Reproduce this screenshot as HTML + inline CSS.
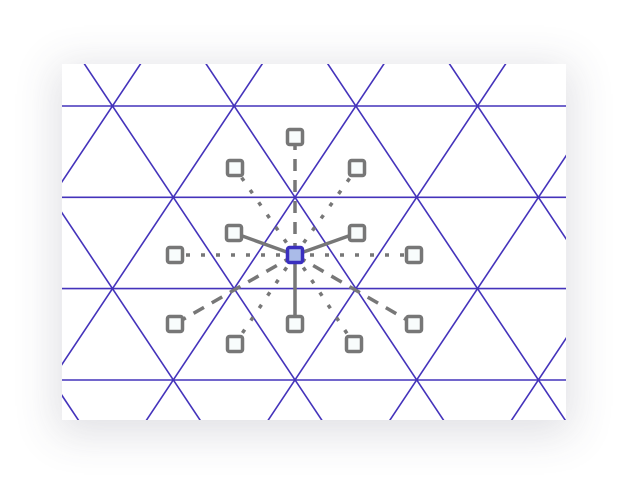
<!DOCTYPE html>
<html><head><meta charset="utf-8"><style>
html,body{margin:0;padding:0;background:#fff;width:642px;height:495px;overflow:hidden;font-family:"Liberation Sans",sans-serif}
#card{position:absolute;left:62px;top:64px;width:504px;height:356px;background:#fff;box-shadow:0 8px 40px 6px rgba(60,60,90,0.16);overflow:hidden}
svg{position:absolute;left:0;top:0}
</style></head><body>
<div id="card"></div>
<svg id="svg" width="642" height="495"></svg>
<script>
// grid geometry (page coords)
const rowYs=[106,197.3,288.6,380];
const colStep=121.7, originX=295, originY=255;
// neighbour nodes: offset from center (px), link style
const nodeDx=[0,-60,62,-61,62,-120,119,-120,119,0,-60,59];
const nodeDy=[-118,-87,-87,-22,-22,0,0,69,69,69,89,89];
const nodeStyle=['dashed','dotted','dotted','solid','solid','dotted','dotted','dashed','dashed','solid','dotted','dotted'];
const NS='http://www.w3.org/2000/svg';
const svg=document.getElementById('svg');
const cx0=62,cy0=64,cx1=566,cy1=420;
const clip=document.createElementNS(NS,'clipPath');clip.setAttribute('id','c');
const cr=document.createElementNS(NS,'rect');cr.setAttribute('x',cx0);cr.setAttribute('y',cy0);cr.setAttribute('width',cx1-cx0);cr.setAttribute('height',cy1-cy0);
clip.appendChild(cr);svg.appendChild(clip);
const g=document.createElementNS(NS,'g');g.setAttribute('clip-path','url(#c)');


svg.appendChild(g);
function line(p,x1,y1,x2,y2,st){const l=document.createElementNS(NS,'line');l.setAttribute('x1',x1);l.setAttribute('y1',y1);l.setAttribute('x2',x2);l.setAttribute('y2',y2);for(const k in st)l.setAttribute(k,st[k]);p.appendChild(l);return l;}
const gridSt={stroke:'#4433bb','stroke-width':1.6};
const rowH=rowYs[1]-rowYs[0];
for(const y of rowYs){const l=line(g,0,y,642,y,gridSt);

}
// diagonals: vertices at y=197.3 x = 295 + k*colStep
const slope=(colStep/2)/rowH;
for(let k=-8;k<=8;k++){const x=295+k*colStep,y=rowYs[1];
const top=0,bot=495;
const a=line(g,x+(top-y)*slope,top,x+(bot-y)*slope,bot,gridSt);


const b=line(g,x-(top-y)*slope,top,x-(bot-y)*slope,bot,gridSt);

}
const dash={dashed:'12 9',dotted:'4 11',solid:'none'};
for(let i=0;i<nodeDx.length;i++){
const x=originX+nodeDx[i],y=originY+nodeDy[i];
const l=line(svg,originX,originY,x,y,{stroke:'#777','stroke-width':3.5,'stroke-dasharray':dash[nodeStyle[i]]});

}
function sq(x,y,fill,stroke){const r=document.createElementNS(NS,'rect');r.setAttribute('x',x-7.5);r.setAttribute('y',y-7.5);r.setAttribute('width',15);r.setAttribute('height',15);r.setAttribute('rx',2);r.setAttribute('fill',fill);r.setAttribute('stroke',stroke);r.setAttribute('stroke-width',3.5);svg.appendChild(r);return r;}
for(let i=0;i<nodeDx.length;i++){const r=sq(originX+nodeDx[i],originY+nodeDy[i],'#f8fcfc','#777');

}
const c=sq(originX,originY,'#aabbe8','#3a2fbf');


</script>
</body></html>
